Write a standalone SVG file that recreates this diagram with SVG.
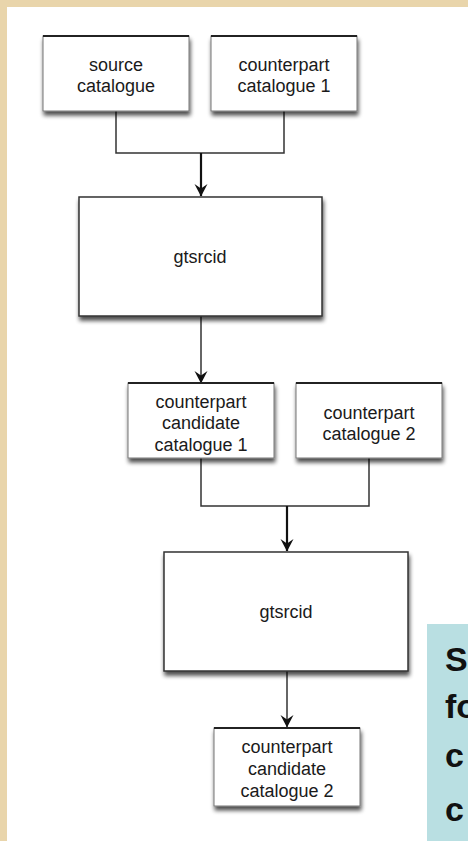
<svg xmlns="http://www.w3.org/2000/svg" width="468" height="841" viewBox="0 0 468 841">
<defs>
<filter id="sh" x="-10%" y="-10%" width="125%" height="140%">
<feGaussianBlur in="SourceAlpha" stdDeviation="2"/>
<feOffset dx="1" dy="4" result="b"/>
<feComponentTransfer><feFuncA type="linear" slope="0.7"/></feComponentTransfer>
<feMerge><feMergeNode/><feMergeNode in="SourceGraphic"/></feMerge>
</filter>
<marker id="ah" markerWidth="14" markerHeight="14" viewBox="0 0 14 14" refX="13" refY="7" orient="auto" markerUnits="userSpaceOnUse">
<path d="M1,0.5 L5.5,7 L1,13.5 L13.5,7 Z" fill="#111"/>
</marker>
</defs>
<style>
.box{fill:#fff;stroke:#777;stroke-width:1}
.big{fill:#fff;stroke:#333;stroke-width:1.5}
.top{stroke:#222;stroke-width:2}
.t{font-family:"Liberation Sans",Arial,sans-serif;font-size:18px;fill:#1a1a1a;text-anchor:middle}
.c{fill:none;stroke:#333;stroke-width:1.5}
.ca{fill:none;stroke:#111;stroke-width:2.2}
.note{font-family:"Liberation Sans",Arial,sans-serif;font-size:34px;font-weight:bold;fill:#111}
</style>
<rect x="0" y="0" width="468" height="841" fill="#e9d5ab"/>
<rect x="7" y="7" width="461" height="834" fill="#fff"/>

<g id="connectors">
<polyline class="c" points="116,111 116,153 284,153 284,111"/>
<line class="ca" x1="201" y1="153" x2="201" y2="196" marker-end="url(#ah)"/>
<line class="c" x1="201" y1="316" x2="201" y2="383" marker-end="url(#ah)"/>
<polyline class="c" points="201,458 201,506 369,506 369,458"/>
<line class="ca" x1="287" y1="506" x2="287" y2="551" marker-end="url(#ah)"/>
<line class="c" x1="287" y1="671" x2="287" y2="727" marker-end="url(#ah)"/>
</g>

<g id="source-catalogue">
<rect class="box" x="43" y="36" width="146" height="75" filter="url(#sh)"/>
<line class="top" x1="43" y1="36" x2="189" y2="36"/>
<text class="t" x="116" y="71">source</text>
<text class="t" x="116" y="92">catalogue</text>
</g>

<g id="counterpart-catalogue-1">
<rect class="box" x="211" y="36" width="146" height="75" filter="url(#sh)"/>
<line class="top" x1="211" y1="36" x2="357" y2="36"/>
<text class="t" x="284" y="71">counterpart</text>
<text class="t" x="284" y="92">catalogue 1</text>
</g>

<g id="gtsrcid-1">
<rect class="big" x="79" y="197" width="243" height="119" filter="url(#sh)"/>
<text class="t" x="200" y="263">gtsrcid</text>
</g>

<g id="counterpart-candidate-catalogue-1">
<rect class="box" x="128" y="383" width="146" height="75" filter="url(#sh)"/>
<line class="top" x1="128" y1="383" x2="274" y2="383"/>
<text class="t" x="201" y="408">counterpart</text>
<text class="t" x="201" y="429">candidate</text>
<text class="t" x="201" y="451">catalogue 1</text>
</g>

<g id="counterpart-catalogue-2">
<rect class="box" x="296" y="383" width="146" height="75" filter="url(#sh)"/>
<line class="top" x1="296" y1="383" x2="442" y2="383"/>
<text class="t" x="369" y="419">counterpart</text>
<text class="t" x="369" y="440">catalogue 2</text>
</g>

<g id="gtsrcid-2">
<rect class="big" x="164" y="552" width="244" height="119" filter="url(#sh)"/>
<text class="t" x="286" y="618">gtsrcid</text>
</g>

<g id="counterpart-candidate-catalogue-2">
<rect class="box" x="214" y="728" width="146" height="78" filter="url(#sh)"/>
<line class="top" x1="214" y1="728" x2="360" y2="728"/>
<text class="t" x="287" y="753">counterpart</text>
<text class="t" x="287" y="775">candidate</text>
<text class="t" x="287" y="797">catalogue 2</text>
</g>

<g id="note">
<rect x="427" y="624" width="41" height="217" fill="#b9dfe2"/>
<text class="note" x="445" y="671">S</text>
<text class="note" x="445" y="718">fo</text>
<text class="note" x="445" y="767">c</text>
<text class="note" x="445" y="821">c</text>
</g>
</svg>
